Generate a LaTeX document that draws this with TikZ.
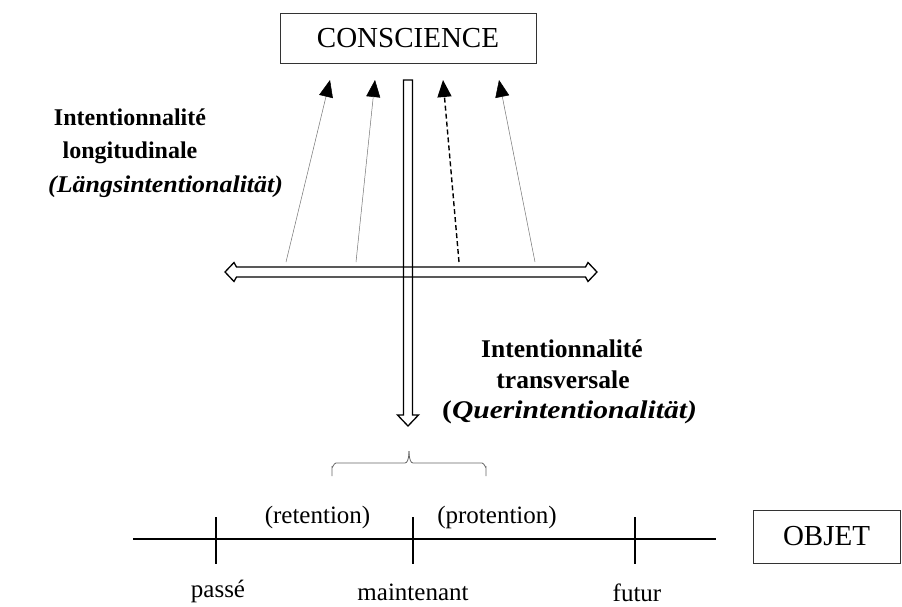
\documentclass[tikz,border=0pt]{standalone}
\usepackage{fontspec}
\setmainfont{Liberation Serif}
\usetikzlibrary{arrows.meta}
\begin{document}
\begin{tikzpicture}[x=1pt,y=-1pt,
  boxlabel/.style={draw=black!80, line width=0.9pt, inner sep=0pt, font=\fontsize{29}{33}\selectfont},
  boldlabel/.style={inner sep=0pt, font=\fontsize{24}{28}\selectfont\bfseries},
  boldlabelr/.style={inner sep=0pt, font=\fontsize{25.5}{29}\selectfont\bfseries},
  timelabel/.style={inner sep=0pt, anchor=base, font=\fontsize{25}{29}\selectfont},
  thinarrow/.style={draw=black!55, line width=0.5pt, -{Triangle[length=17pt,width=14pt,color=black]}},
  dasharrow/.style={draw=black, line width=1.4pt, dash pattern=on 5pt off 3pt, -{Triangle[length=17pt,width=14pt,color=black]}},
  blockarrow/.style={draw=black, line width=1.3pt, line join=miter},
  tickline/.style={draw=black, line width=1.5pt},
  bracestyle/.style={draw=black!60, line width=0.8pt}
]
\useasboundingbox (0,0) rectangle (902,607);

% boxes
\node[boxlabel, minimum width=256pt, minimum height=50pt] (cons) at (408,38) {CONSCIENCE};
\node[boxlabel, minimum width=147pt, minimum height=53pt] (obj) at (826.5,536.5) {OBJET};

% vertical block arrow (transversal)
\draw[blockarrow] (403.5,80) -- (412.5,80) -- (412.5,415) -- (418.5,415) -- (408,426) -- (397.5,415) -- (403.5,415) -- cycle;

% horizontal double block arrow
\draw[blockarrow] (225,272) -- (234,262.5) -- (236.5,267) -- (585.5,267) -- (588,262.5) -- (597,272) -- (588,281.5) -- (585.5,277) -- (236.5,277) -- (234,281.5) -- cycle;

% longitudinal arrows
\coordinate (t1) at (330,80);
\coordinate (t2) at (375,80);
\coordinate (t3) at (443,80);
\coordinate (t4) at (499,80);
\coordinate (s1) at (286,262);
\coordinate (s2) at (356,262);
\coordinate (s3) at (459,262);
\coordinate (s4) at (535,262);
\draw[thinarrow] (s1) -- (t1);
\draw[thinarrow] (s2) -- (t2);
\draw[dasharrow] (s3) -- (t3);
\draw[thinarrow] (s4) -- (t4);

% labels left
\node[boldlabel, anchor=base] (li1) at (130,126) {Intentionnalité};
\node[boldlabel, anchor=base] (li2) at (130,158) {longitudinale};
\node[boldlabel, anchor=base west] (li3) at (48,192) {\scalebox{1.08}[1]{\itshape (Längsintentionalität)}};

% labels right
\node[boldlabelr, anchor=base] (ri1) at (562,357) {Intentionnalité};
\node[boldlabelr, anchor=base] (ri2) at (563,388) {transversale};
\node[boldlabelr, anchor=base west] (ri3) at (442,418) {\scalebox{1.16}[1]{(\textit{Querintentionalität)}}};

% brace
\draw[bracestyle] (332,476) -- (332,467) to[out=-90,in=180] (336,463) -- (405,463) to[out=0,in=90] (409,452);
\draw[bracestyle] (486,476) -- (486,467) to[out=-90,in=0] (482,463) -- (413,463) to[out=180,in=90] (409,452);

% timeline
\coordinate (tl0) at (133,539);
\coordinate (tl1) at (716,539);
\draw[tickline, line width=1.6pt] (tl0) -- (tl1);
\draw[tickline] (216,517) -- (216,564);
\draw[tickline] (413,517) -- (413,564);
\draw[tickline] (635,517) -- (635,564);

\node[timelabel] (ret) at (317.5,523) {(retention)};
\node[timelabel] (pro) at (497,523) {(protention)};
\node[timelabel] (passe) at (218,597) {passé};
\node[timelabel] (maint) at (413,600) {maintenant};
\node[timelabel] (futur) at (637,601) {futur};
\end{tikzpicture}
\end{document}
